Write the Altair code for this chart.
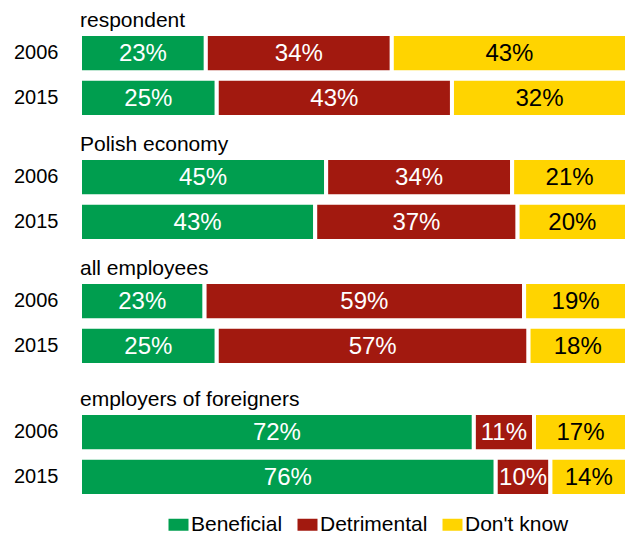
import altair as alt
import pandas as pd

groups = ["respondent", "Polish economy", "all employees", "employers of foreigners"]
years = ["2006", "2015"]
answers = ["Beneficial", "Detrimental", "Don't know"]
colors = ["#009E4F", "#A2190F", "#FFD400"]

beneficial = {"respondent": [23, 25], "Polish economy": [45, 43],
              "all employees": [23, 25], "employers of foreigners": [72, 76]}
detrimental = {"respondent": [34, 43], "Polish economy": [34, 37],
               "all employees": [59, 57], "employers of foreigners": [11, 10]}
dont_know = {"respondent": [43, 32], "Polish economy": [21, 20],
             "all employees": [19, 18], "employers of foreigners": [17, 14]}

rows = []
for g in groups:
    for i, y in enumerate(years):
        for k, (a, src) in enumerate(zip(answers, [beneficial, detrimental, dont_know])):
            rows.append({"group": g, "year": y, "answer": a, "order": k, "value": src[g][i]})
df = pd.DataFrame(rows)

FONT = "Liberation Sans"


def panel(g, offset=-18):
    base = (
        alt.Chart(df)
        .transform_filter(alt.datum.group == g)
        .transform_stack(stack="value", as_=["x0", "x1"], groupby=["year"],
                         sort=[alt.SortField("order")], offset="normalize")
        .transform_calculate(mid="(datum.x0 + datum.x1) / 2", label="datum.value + '%'")
    )
    yenc = alt.Y("year:N", sort=years, title=None,
                 scale=alt.Scale(paddingInner=0.148, paddingOuter=0),
                 axis=alt.Axis(ticks=False, domain=False, labelFontSize=20, labelFont=FONT,
                               labelColor="black", labelPadding=22))
    bars = base.mark_bar(stroke="white", strokeWidth=4, clip=True).encode(
        x=alt.X("x0:Q", scale=alt.Scale(domain=[0, 1]), axis=None),
        x2="x1:Q",
        y=yenc,
        color=alt.Color("answer:N", scale=alt.Scale(domain=answers, range=colors),
                        legend=alt.Legend(title=None, orient="none", direction="horizontal",
                                          legendX=88, legendY=480,
                                          symbolType="M-1,-0.6H1V0.6H-1Z", symbolSize=400,
                                          symbolStrokeWidth=0, labelFontSize=21, labelFont=FONT,
                                          labelColor="black", labelOffset=2, columnPadding=14)),
    )
    text = base.mark_text(fontSize=24, font=FONT, baseline="middle", dy=1).encode(
        x=alt.X("mid:Q", axis=None, title=None),
        y=alt.Y("year:N", sort=years, title=None),
        text="label:N",
        color=alt.when(alt.datum.answer == "Don't know").then(alt.value("black")).otherwise(alt.value("white")),
    )
    return alt.layer(bars, text).properties(
        width=547, height=83,
        title=alt.TitleParams(g, anchor="start", frame="group", fontSize=21, font=FONT,
                              fontWeight="normal", color="black", baseline="bottom",
                              offset=offset),
    )


inner = alt.vconcat(*[panel(g) for g in groups[:3]], spacing=17)
chart = alt.vconcat(inner, panel(groups[3]), spacing=24).properties(
    padding={"left": 5, "top": 2, "right": 0, "bottom": 0}
).configure_view(stroke=None)

chart.save("out.html", embed_options={"renderer": "svg", "actions": False})
